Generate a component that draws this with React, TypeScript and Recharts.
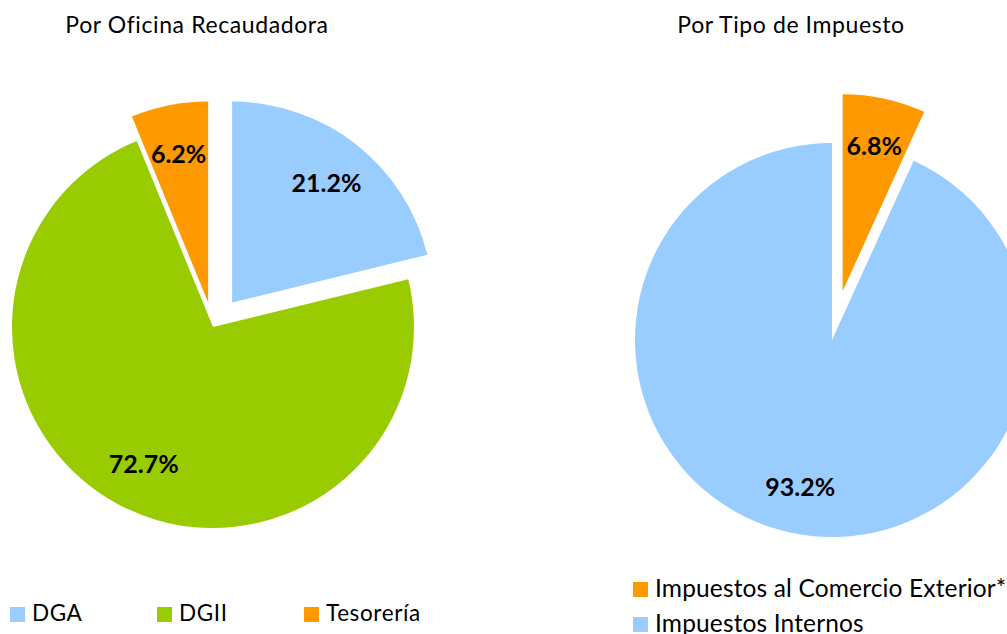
import React from 'react';
import { PieChart, Pie, Cell, Sector, Legend } from 'recharts';

// Por Oficina Recaudadora
const oficinaNames = ['DGA', 'DGII', 'Tesorería'];
const oficinaValues = [21.2, 72.7, 6.2];
const oficinaColors = ['#99CCFF', '#99CC00', '#FF9900'];
const oficinaExplode = [31, 0, 25];

// Por Tipo de Impuesto
const tipoNames = ['Impuestos al Comercio Exterior*', 'Impuestos Internos'];
const tipoValues = [6.8, 93.2];
const tipoColors = ['#FF9900', '#99CCFF'];
const tipoExplode = [50, 0];

const FONT = 'Lato, "Open Sans", sans-serif';
const RAD = Math.PI / 180;
const NO_MARGIN = { top: 0, right: 0, bottom: 0, left: 0 };

const oficinaData = oficinaNames.map((name, i) => ({ name, value: oficinaValues[i] }));
const tipoData = tipoNames.map((name, i) => ({ name, value: tipoValues[i] }));

const shift = (midAngle: number, d: number) => ({
  dx: d * Math.cos(-midAngle * RAD),
  dy: d * Math.sin(-midAngle * RAD),
});

// slices pulled out along their mid angle
const explodedShape = (explode: number[]) => (props: any) => {
  const { dx, dy } = shift(props.midAngle, explode[props.index] || 0);
  return (
    <Sector
      cx={props.cx + dx}
      cy={props.cy + dy}
      innerRadius={0}
      outerRadius={props.outerRadius}
      startAngle={props.startAngle}
      endAngle={props.endAngle}
      fill={props.fill}
      stroke="none"
    />
  );
};

const pctLabel = (explode: number[]) => (props: any) => {
  const { cx, cy, midAngle, outerRadius, index, value } = props;
  const { dx, dy } = shift(midAngle, (explode[index] || 0) + outerRadius * 0.76);
  return (
    <text
      x={cx + dx}
      y={cy + dy}
      textAnchor="middle"
      dominantBaseline="central"
      fontFamily={FONT}
      fontWeight={700}
      fontSize={25}
      fill="#000"
    >
      {`${Number(value).toFixed(1)}%`}
    </text>
  );
};

const RowLegend = () => (
  <div style={{ position: 'relative', width: 480, height: 36, fontFamily: FONT, fontSize: 22.5, letterSpacing: 0.6, color: '#000' }}>
    {oficinaNames.map((n, i) => (
      <div key={n} style={{ position: 'absolute', left: i * 147, top: 0, height: 30, lineHeight: '30px', whiteSpace: 'nowrap' }}>
        <span style={{ position: 'absolute', left: 0, top: 9, width: 15, height: 15, background: oficinaColors[i] }} />
        <span style={{ position: 'absolute', left: 22, top: 0 }}>{n}</span>
      </div>
    ))}
  </div>
);

const ColLegend = () => (
  <div style={{ position: 'relative', width: 400, height: 70, fontFamily: FONT, fontSize: 24.5, letterSpacing: 0.15, color: '#000' }}>
    {tipoNames.map((n, i) => (
      <div key={n} style={{ position: 'absolute', left: 0, top: i * 35, height: 35, lineHeight: '35px', whiteSpace: 'nowrap' }}>
        <span style={{ position: 'absolute', left: 0, top: 12, width: 15, height: 15, background: tipoColors[i] }} />
        <span style={{ position: 'absolute', left: 22, top: 0 }}>{n}</span>
      </div>
    ))}
  </div>
);

const titleStyle: React.CSSProperties = {
  position: 'absolute',
  top: 9,
  height: 30,
  lineHeight: '30px',
  fontFamily: FONT,
  fontSize: 23,
  letterSpacing: 0.6,
  color: '#000',
  textAlign: 'center',
  whiteSpace: 'nowrap',
};

export default function App() {
  return (
    <div style={{ position: 'absolute', left: 0, top: 0, width: 1007, height: 634, overflow: 'hidden', background: '#fff' }}>
      <div style={{ position: 'absolute', left: 0, top: 0 }}>
        <PieChart width={500} height={634} margin={NO_MARGIN}>
          <Pie
            data={oficinaData}
            dataKey="value"
            nameKey="name"
            cx={213}
            cy={327}
            outerRadius={201}
            startAngle={90}
            endAngle={-270}
            stroke="none"
            shape={explodedShape(oficinaExplode)}
            label={pctLabel(oficinaExplode)}
            labelLine={false}
            isAnimationActive={false}
          >
            {oficinaData.map((d, i) => (
              <Cell key={d.name} fill={oficinaColors[i]} />
            ))}
          </Pie>
          <Legend content={() => <RowLegend />} wrapperStyle={{ position: 'absolute', left: 10, top: 598, width: 480 }} />
        </PieChart>
        <div style={{ ...titleStyle, left: 47, width: 300 }}>Por Oficina Recaudadora</div>
      </div>
      <div style={{ position: 'absolute', left: 500, top: 0 }}>
        <PieChart width={507} height={634} margin={NO_MARGIN}>
          <Pie
            data={tipoData}
            dataKey="value"
            nameKey="name"
            cx={332}
            cy={340}
            outerRadius={197}
            startAngle={90}
            endAngle={-270}
            stroke="none"
            shape={explodedShape(tipoExplode)}
            label={pctLabel(tipoExplode)}
            labelLine={false}
            isAnimationActive={false}
          >
            {tipoData.map((d, i) => (
              <Cell key={d.name} fill={tipoColors[i]} />
            ))}
          </Pie>
          <Legend content={() => <ColLegend />} wrapperStyle={{ position: 'absolute', left: 133, top: 570, width: 400 }} />
        </PieChart>
        <div style={{ ...titleStyle, left: 141, width: 300 }}>Por Tipo de Impuesto</div>
      </div>
    </div>
  );
}
